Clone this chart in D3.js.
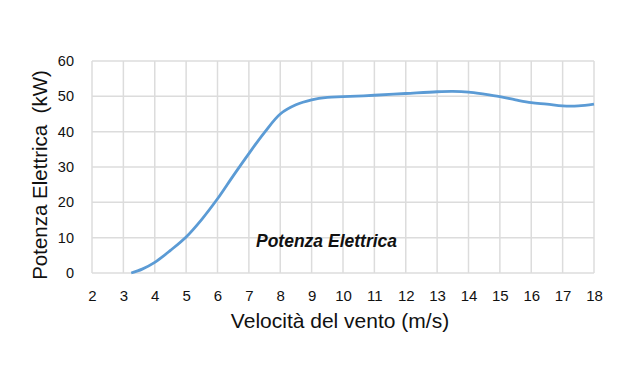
<!DOCTYPE html>
<html>
<head>
<meta charset="utf-8">
<script src="https://cdn.jsdelivr.net/npm/d3@7"></script>
<style>
  body { margin: 0; background: #fff; }
  svg { display: block; }
</style>
</head>
<body>
<svg width="622" height="389"></svg>
<script>
// wind speed (m/s) and electric power (kW)
const windSpeed = [3.25, 3.6, 4, 4.5, 5, 5.5, 6, 6.5, 7, 7.5, 8, 8.5, 9, 9.5, 10, 11, 12, 13, 13.5, 14, 14.5, 15, 15.5, 16, 16.5, 17, 17.5, 18];
const powerKW   = [0, 1.1, 3, 6.4, 10.2, 15.2, 21, 27.5, 33.8, 39.8, 45, 47.6, 49, 49.7, 49.9, 50.3, 50.8, 51.3, 51.4, 51.2, 50.6, 49.9, 49, 48.2, 47.8, 47.3, 47.3, 47.8];
const xTicks = d3.range(2, 19);
const yTicks = [0, 10, 20, 30, 40, 50, 60];

const svg = d3.select("svg");
const plotLeft = 92, plotRight = 594, plotTop = 61, plotBottom = 273;

const xScale = d3.scaleLinear().domain([2, 18]).range([plotLeft, plotRight]);
const yScale = d3.scaleLinear().domain([0, 60]).range([plotBottom, plotTop]);

const grid = svg.append("g");
grid.selectAll("line.v")
    .data(xTicks)
    .enter()
    .append("line")
    .attr("x1", d => xScale(d)).attr("x2", d => xScale(d))
    .attr("y1", plotTop).attr("y2", plotBottom)
    .style("stroke", "#dcdcdc")
    .style("stroke-width", 1.5);
grid.selectAll("line.h")
    .data(yTicks)
    .enter()
    .append("line")
    .attr("x1", plotLeft).attr("x2", plotRight)
    .attr("y1", d => yScale(d)).attr("y2", d => yScale(d))
    .style("stroke", "#dcdcdc")
    .style("stroke-width", 1.5);

// tick labels
const font = "'Liberation Sans', Arial, Helvetica, sans-serif";
const xAxis = svg.append("g")
    .attr("transform", "translate(0," + plotBottom + ")")
    .call(d3.axisBottom(xScale).tickValues(xTicks).tickSize(0).tickPadding(17).tickFormat(d3.format("d")));
xAxis.select(".domain").remove();
xAxis.selectAll("text").style("font-family", font).style("font-size", "15px").style("fill", "#111");

const yAxis = svg.append("g")
    .attr("transform", "translate(" + plotLeft + ",0)")
    .call(d3.axisLeft(yScale).tickValues(yTicks).tickSize(0).tickPadding(18));
yAxis.select(".domain").remove();
yAxis.selectAll("text").style("font-family", font).style("font-size", "14.5px").style("fill", "#111");

// the curve
const points = windSpeed.map((w, i) => [w, powerKW[i]]);
svg.append("path")
    .datum(points)
    .style("fill", "none")
    .style("stroke", "#5b9bd5")
    .style("stroke-width", 2.8)
    .attr("d", d3.line()
        .x(d => xScale(d[0]))
        .y(d => yScale(d[1]))
        .curve(d3.curveCatmullRom.alpha(0.5)));

// series label inside plot
svg.append("text")
    .attr("x", 256)
    .attr("y", 246.5)
    .style("font-family", font)
    .style("font-size", "17.5px")
    .style("font-weight", "bold")
    .style("font-style", "italic")
    .style("fill", "#111")
    .text("Potenza Elettrica");

// axis titles
svg.append("text")
    .attr("x", 340)
    .attr("y", 328)
    .attr("text-anchor", "middle")
    .style("font-family", font)
    .style("font-size", "21px")
    .style("fill", "#111")
    .text("Velocità del vento (m/s)");

svg.append("text")
    .attr("transform", "translate(46.5,175)rotate(-90)")
    .attr("text-anchor", "middle")
    .style("font-family", font)
    .style("font-size", "20.5px")
    .style("fill", "#111")
    .style("white-space", "pre")
    .text("Potenza Elettrica  (kW)");
</script>
</body>
</html>
